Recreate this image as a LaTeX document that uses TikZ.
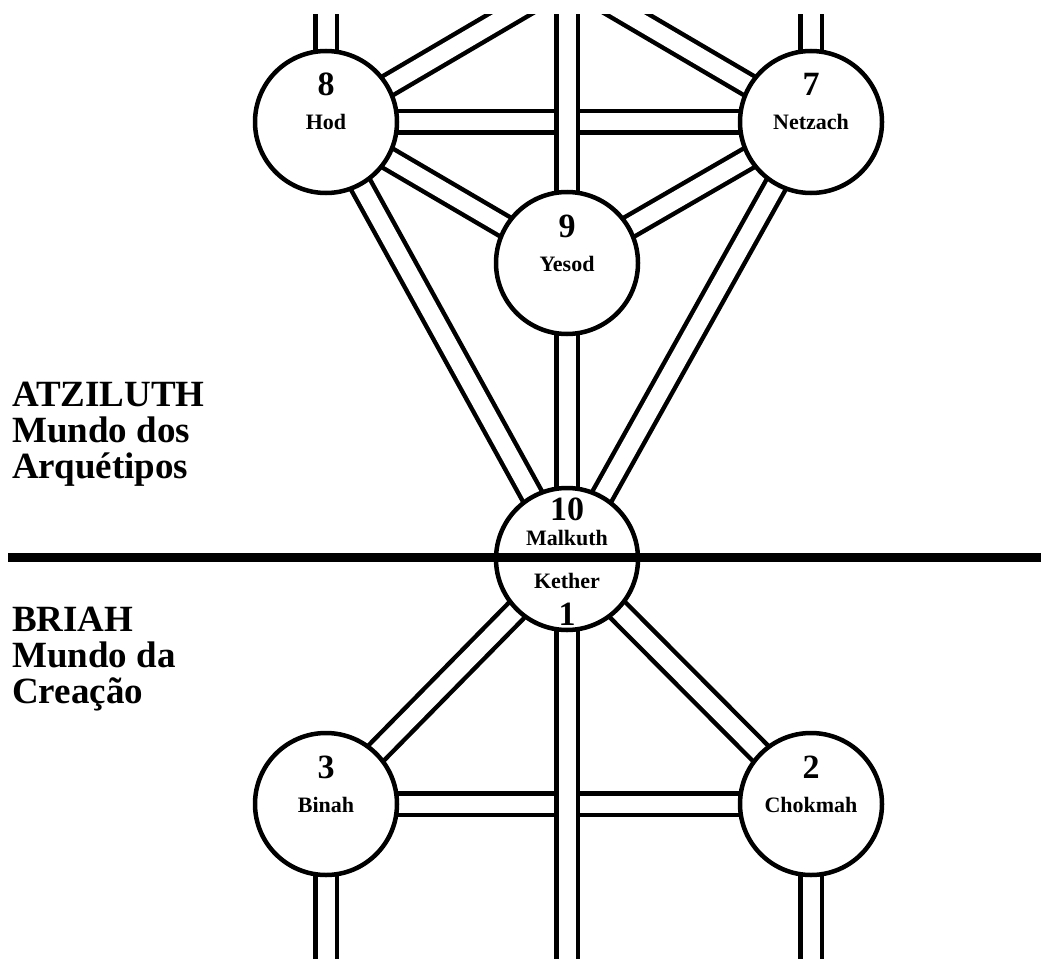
\documentclass[tikz,border=0pt]{standalone}
\usepackage{fontspec}
\setmainfont{Liberation Serif}
\usetikzlibrary{backgrounds}

\begin{document}
\begin{tikzpicture}[
    x=1pt, y=-1pt,
    sefira/.style={circle, draw=black, fill=white, line width=4.5pt, minimum size=142pt, inner sep=0pt},
    via/.style={draw=black, line width=4.5pt, double=white, double distance=17pt},
    num/.style={anchor=base, inner sep=0pt, font=\bfseries\fontsize{34}{34}\selectfont},
    nome/.style={anchor=base, inner sep=0pt, font=\bfseries\fontsize{22}{22}\selectfont},
    mundo/.style={anchor=base west, inner sep=0pt, align=left, font=\bfseries\fontsize{37}{36}\selectfont},
]
    \useasboundingbox (0,0) rectangle (1041,971);

    % sefirot
    \node[sefira] (hod) at (326,122) {};
    \node[sefira] (netzach) at (811,122) {};
    \node[sefira] (yesod) at (567,263) {};
    \node[sefira] (malkuth) at (567,559) {};
    \node[sefira] (binah) at (326,804) {};
    \node[sefira] (chokmah) at (811,804) {};

    \node[num] (hodnum) at ([yshift=26pt]hod.center) {8};
    \node[nome] (hodname) at ([yshift=-8pt]hod.center) {Hod};
    \node[num] (netzachnum) at ([yshift=26pt]netzach.center) {7};
    \node[nome] (netzachname) at ([yshift=-8pt]netzach.center) {Netzach};
    \node[num] (yesodnum) at ([yshift=26pt]yesod.center) {9};
    \node[nome] (yesodname) at ([yshift=-8pt]yesod.center) {Yesod};
    \node[num] (malkuthnum) at ([yshift=39pt]malkuth.center) {10};
    \node[nome] (malkuthname) at ([yshift=14pt]malkuth.center) {Malkuth};
    \node[nome] (kethername) at ([yshift=-29pt]malkuth.center) {Kether};
    \node[num] (kethernum) at ([yshift=-66pt]malkuth.center) {1};
    \node[num] (binahnum) at ([yshift=26pt]binah.center) {3};
    \node[nome] (binahname) at ([yshift=-8pt]binah.center) {Binah};
    \node[num] (chokmahnum) at ([yshift=26pt]chokmah.center) {2};
    \node[nome] (chokmahname) at ([yshift=-8pt]chokmah.center) {Chokmah};

    % free ends of the paths
    \coordinate (hodup) at (326,0);
    \coordinate (netzachup) at (811,0);
    \coordinate (midup) at (567,0);
    \coordinate (hodout) at (534,0);
    \coordinate (netzachout) at (603,0);
    \coordinate (binahdown) at (326,971);
    \coordinate (chokmahdown) at (811,971);
    \coordinate (middown) at (567,971);

    % paths
    \begin{pgfonlayer}{background}
    \begin{scope}
        \clip (0,15) rectangle (1041,958);
        \draw[via] (hod.center) -- (hodup);
        \draw[via] (netzach.center) -- (netzachup);
        \draw[via] (hod.center) -- (hodout);
        \draw[via] (netzach.center) -- (netzachout);
        \draw[via] (hod.center) -- (netzach.center);
        \draw[via] (midup) -- (yesod.center);
        \draw[via] (hod.center) -- (yesod.center);
        \draw[via] (netzach.center) -- (yesod.center);
        \draw[via] (hod.center) -- (malkuth.center);
        \draw[via] (netzach.center) -- (malkuth.center);
        \draw[via] (yesod.center) -- (malkuth.center);
        \draw[via] (malkuth.center) -- (binah.center);
        \draw[via] (malkuth.center) -- (chokmah.center);
        \draw[via] (binah.center) -- (chokmah.center);
        \draw[via] (malkuth.center) -- (middown);
        \draw[via] (binah.center) -- (binahdown);
        \draw[via] (chokmah.center) -- (chokmahdown);
    \end{scope}
    \end{pgfonlayer}

    % division of the worlds
    \coordinate (divleft) at (8,557);
    \coordinate (divright) at (1041,557);
    \draw[line width=9pt] (divleft) -- (divright);

    \node[mundo] (atziluth) at (12,478) {ATZILUTH\\Mundo dos\\Arquétipos};
    \node[mundo] (briah) at (12,703) {BRIAH\\Mundo da\\Creação};
\end{tikzpicture}
\end{document}
